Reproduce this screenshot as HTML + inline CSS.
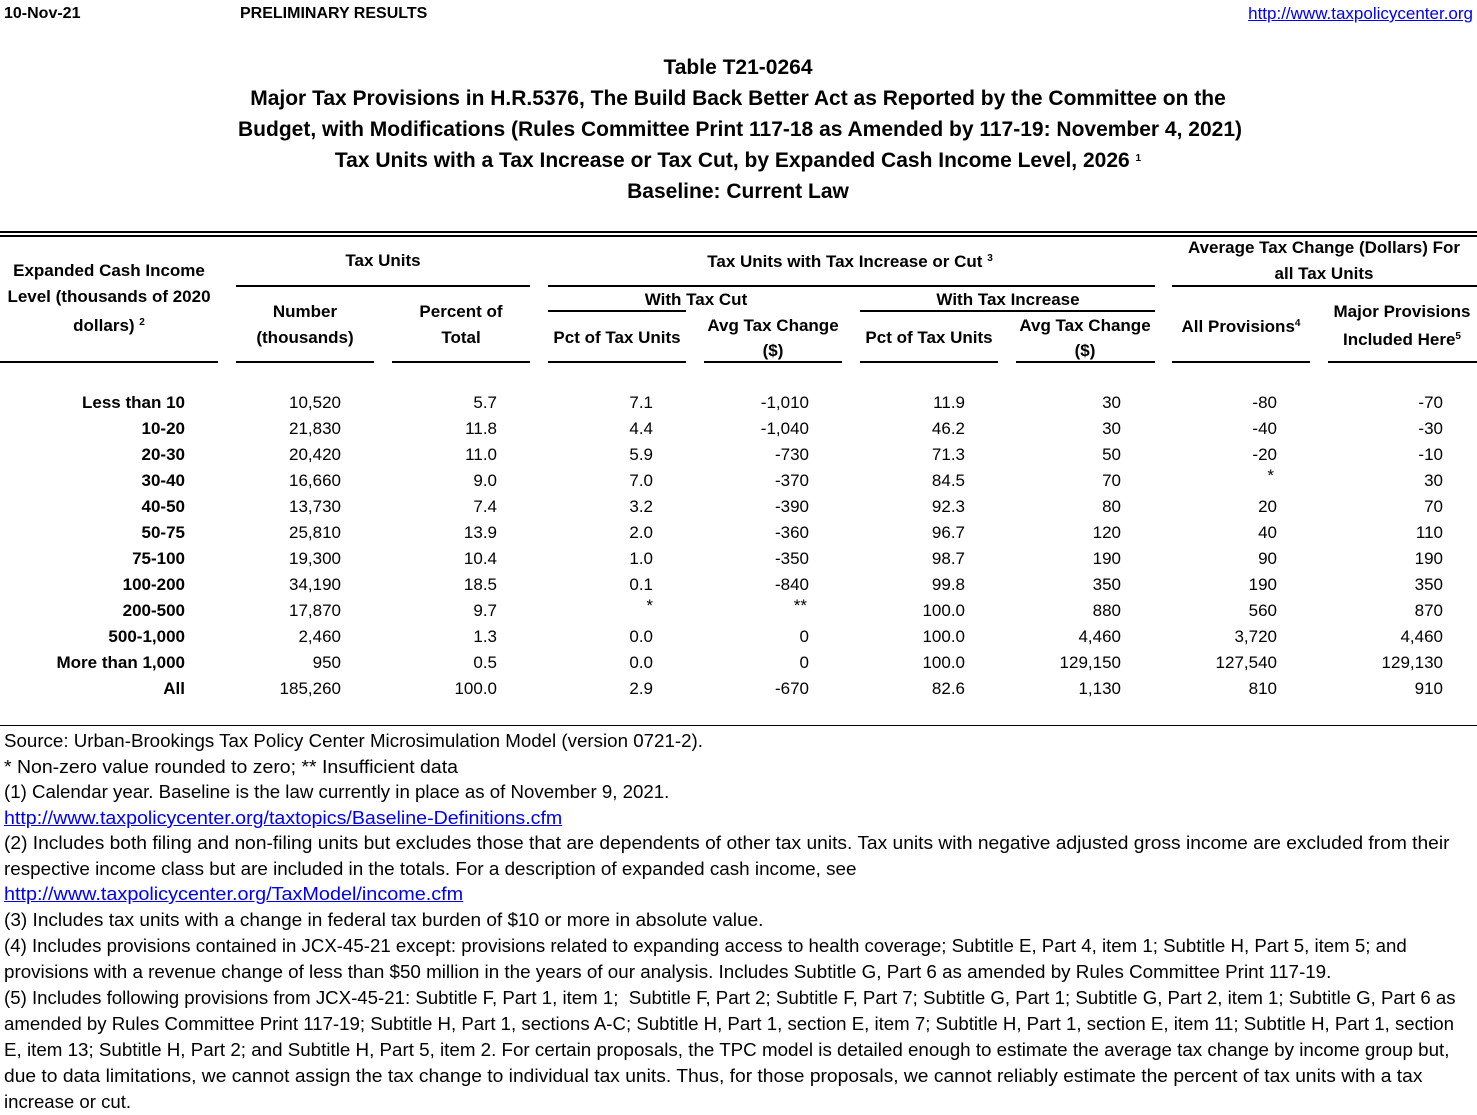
<!DOCTYPE html>
<html><head><meta charset="utf-8"><style>
body{margin:0;width:1477px;height:1113px;background:#fff;position:relative;overflow:hidden;font-family:"Liberation Sans",Arial,sans-serif;color:#000}
.t{position:absolute;white-space:nowrap;line-height:26px;height:26px}
.b{font-weight:bold}
.c{transform:translateX(-50%)}
.r{transform:translateX(-100%)}
.h{font-size:17px;font-weight:bold}
.ti{font-size:21px;font-weight:bold}
.d{font-size:17px}
.f{font-size:18px;left:4px;transform-origin:0 0}
.ln{position:absolute;height:2px;background:#000}
.u{color:#0000ee;text-decoration:underline}
sup{font-size:10px;vertical-align:6px;line-height:0}
</style></head><body>
<div class="t b" style="left:4px;top:1px;font-size:16px">10-Nov-21</div>
<div class="t b" style="left:240px;top:1px;font-size:16px">PRELIMINARY RESULTS</div>
<div class="t u r" style="left:1473px;top:1px;font-size:17px">http://www.taxpolicycenter.org</div>

<div class="t ti c" style="left:738px;top:55px">Table T21-0264</div>
<div class="t ti c" style="left:738px;top:86px">Major Tax Provisions in H.R.5376, The Build Back Better Act as Reported by the Committee on the</div>
<div class="t ti c" style="left:740px;top:117px">Budget, with Modifications (Rules Committee Print 117-18 as Amended by 117-19: November 4, 2021)</div>
<div class="t ti c" style="left:738px;top:148px">Tax Units with a Tax Increase or Tax Cut, by Expanded Cash Income Level, 2026 <sup>1</sup></div>
<div class="t ti c" style="left:738px;top:179px">Baseline: Current Law</div>

<div class="ln" style="left:0;top:231px;width:1477px"></div>
<div class="ln" style="left:0;top:235px;width:1477px"></div>
<div class="ln" style="left:236px;top:285px;width:294px"></div>
<div class="ln" style="left:548px;top:285px;width:607px"></div>
<div class="ln" style="left:1172px;top:285px;width:305px"></div>
<div class="ln" style="left:548px;top:310px;width:138px"></div>
<div class="ln" style="left:860px;top:310px;width:295px"></div>
<div class="ln" style="left:0;top:361px;width:218px"></div>
<div class="ln" style="left:236px;top:361px;width:138px"></div>
<div class="ln" style="left:392px;top:361px;width:138px"></div>
<div class="ln" style="left:548px;top:361px;width:138px"></div>
<div class="ln" style="left:704px;top:361px;width:138px"></div>
<div class="ln" style="left:860px;top:361px;width:138px"></div>
<div class="ln" style="left:1016px;top:361px;width:139px"></div>
<div class="ln" style="left:1172px;top:361px;width:138px"></div>
<div class="ln" style="left:1328px;top:361px;width:149px"></div>
<div class="ln" style="left:0;top:725px;width:1477px;height:1px"></div>

<div class="t h c" style="left:109px;top:258px">Expanded Cash Income</div>
<div class="t h c" style="left:109px;top:284px">Level (thousands of 2020</div>
<div class="t h c" style="left:109px;top:313px">dollars) <sup>2</sup></div>
<div class="t h c" style="left:383px;top:248px">Tax Units</div>
<div class="t h c" style="left:305px;top:299px">Number</div>
<div class="t h c" style="left:305px;top:325px">(thousands)</div>
<div class="t h c" style="left:461px;top:299px">Percent of</div>
<div class="t h c" style="left:461px;top:325px">Total</div>
<div class="t h c" style="left:850px;top:249px">Tax Units with Tax Increase or Cut <sup>3</sup></div>
<div class="t h c" style="left:696px;top:287px">With Tax Cut</div>
<div class="t h c" style="left:1008px;top:287px">With Tax Increase</div>
<div class="t h c" style="left:617px;top:325px">Pct of Tax Units</div>
<div class="t h c" style="left:773px;top:313px">Avg Tax Change</div>
<div class="t h c" style="left:773px;top:338px">($)</div>
<div class="t h c" style="left:929px;top:325px">Pct of Tax Units</div>
<div class="t h c" style="left:1085px;top:313px">Avg Tax Change</div>
<div class="t h c" style="left:1085px;top:338px">($)</div>
<div class="t h c" style="left:1324px;top:235px">Average Tax Change (Dollars) For</div>
<div class="t h c" style="left:1324px;top:261px">all Tax Units</div>
<div class="t h c" style="left:1241px;top:314px">All Provisions<sup>4</sup></div>
<div class="t h c" style="left:1402px;top:299px">Major Provisions</div>
<div class="t h c" style="left:1402px;top:327px">Included Here<sup>5</sup></div>

<div id="rows"></div>
<script>
var rows=[
["Less than 10","10,520","5.7","7.1","-1,010","11.9","30","-80","-70"],
["10-20","21,830","11.8","4.4","-1,040","46.2","30","-40","-30"],
["20-30","20,420","11.0","5.9","-730","71.3","50","-20","-10"],
["30-40","16,660","9.0","7.0","-370","84.5","70","*","30"],
["40-50","13,730","7.4","3.2","-390","92.3","80","20","70"],
["50-75","25,810","13.9","2.0","-360","96.7","120","40","110"],
["75-100","19,300","10.4","1.0","-350","98.7","190","90","190"],
["100-200","34,190","18.5","0.1","-840","99.8","350","190","350"],
["200-500","17,870","9.7","*","**","100.0","880","560","870"],
["500-1,000","2,460","1.3","0.0","0","100.0","4,460","3,720","4,460"],
["More than 1,000","950","0.5","0.0","0","100.0","129,150","127,540","129,130"],
["All","185,260","100.0","2.9","-670","82.6","1,130","810","910"]];
var xs=[185,341,497,653,809,965,1121,1277,1443],h="";
rows.forEach(function(r,i){var y=390+i*26;r.forEach(function(v,j){
var star=(v=="*"||v=="**");var x=xs[j];
if(star){x=(j==3)?653:(j==4)?807:1274;}
h+='<div class="t d r'+(j==0?' b':'')+'" style="left:'+x+'px;top:'+(y-(star?5:0))+'px">'+v+'</div>';});});
document.getElementById("rows").innerHTML=h;
</script>

<div class="t f" style="top:728px">Source: Urban-Brookings Tax Policy Center Microsimulation Model (version 0721-2).</div>
<div class="t f" style="top:754px">* Non-zero value rounded to zero; ** Insufficient data</div>
<div class="t f" style="top:779px">(1) Calendar year. Baseline is the law currently in place as of November 9, 2021.</div>
<div class="t f u" style="top:805px">http://www.taxpolicycenter.org/taxtopics/Baseline-Definitions.cfm</div>
<div class="t f" style="top:830px">(2) Includes both filing and non-filing units but excludes those that are dependents of other tax units. Tax units with negative adjusted gross income are excluded from their</div>
<div class="t f" style="top:856px">respective income class but are included in the totals. For a description of expanded cash income, see</div>
<div class="t f u" style="top:881px">http://www.taxpolicycenter.org/TaxModel/income.cfm</div>
<div class="t f" style="top:907px">(3) Includes tax units with a change in federal tax burden of $10 or more in absolute value.</div>
<div class="t f" style="top:933px">(4) Includes provisions contained in JCX-45-21 except: provisions related to expanding access to health coverage; Subtitle E, Part 4, item 1; Subtitle H, Part 5, item 5; and</div>
<div class="t f" style="top:959px">provisions with a revenue change of less than $50 million in the years of our analysis. Includes Subtitle G, Part 6 as amended by Rules Committee Print 117-19.</div>
<div class="t f" style="top:985px">(5) Includes following provisions from JCX-45-21: Subtitle F, Part 1, item 1;&nbsp; Subtitle F, Part 2; Subtitle F, Part 7; Subtitle G, Part 1; Subtitle G, Part 2, item 1; Subtitle G, Part 6 as</div>
<div class="t f" style="top:1011px">amended by Rules Committee Print 117-19; Subtitle H, Part 1, sections A-C; Subtitle H, Part 1, section E, item 7; Subtitle H, Part 1, section E, item 11; Subtitle H, Part 1, section</div>
<div class="t f" style="top:1037px">E, item 13; Subtitle H, Part 2; and Subtitle H, Part 5, item 2. For certain proposals, the TPC model is detailed enough to estimate the average tax change by income group but,</div>
<div class="t f" style="top:1063px">due to data limitations, we cannot assign the tax change to individual tax units. Thus, for those proposals, we cannot reliably estimate the percent of tax units with a tax</div>
<div class="t f" style="top:1089px">increase or cut.</div>
<script>
var tg=[699,454,665,558,1445,852,459,759,1403,1327,1452,1450,1445,1418,127];
document.querySelectorAll('.f').forEach(function(e,i){var w=e.scrollWidth;e.style.transform='scaleX('+(tg[i]/w)+')';});
</script>
</body></html>
